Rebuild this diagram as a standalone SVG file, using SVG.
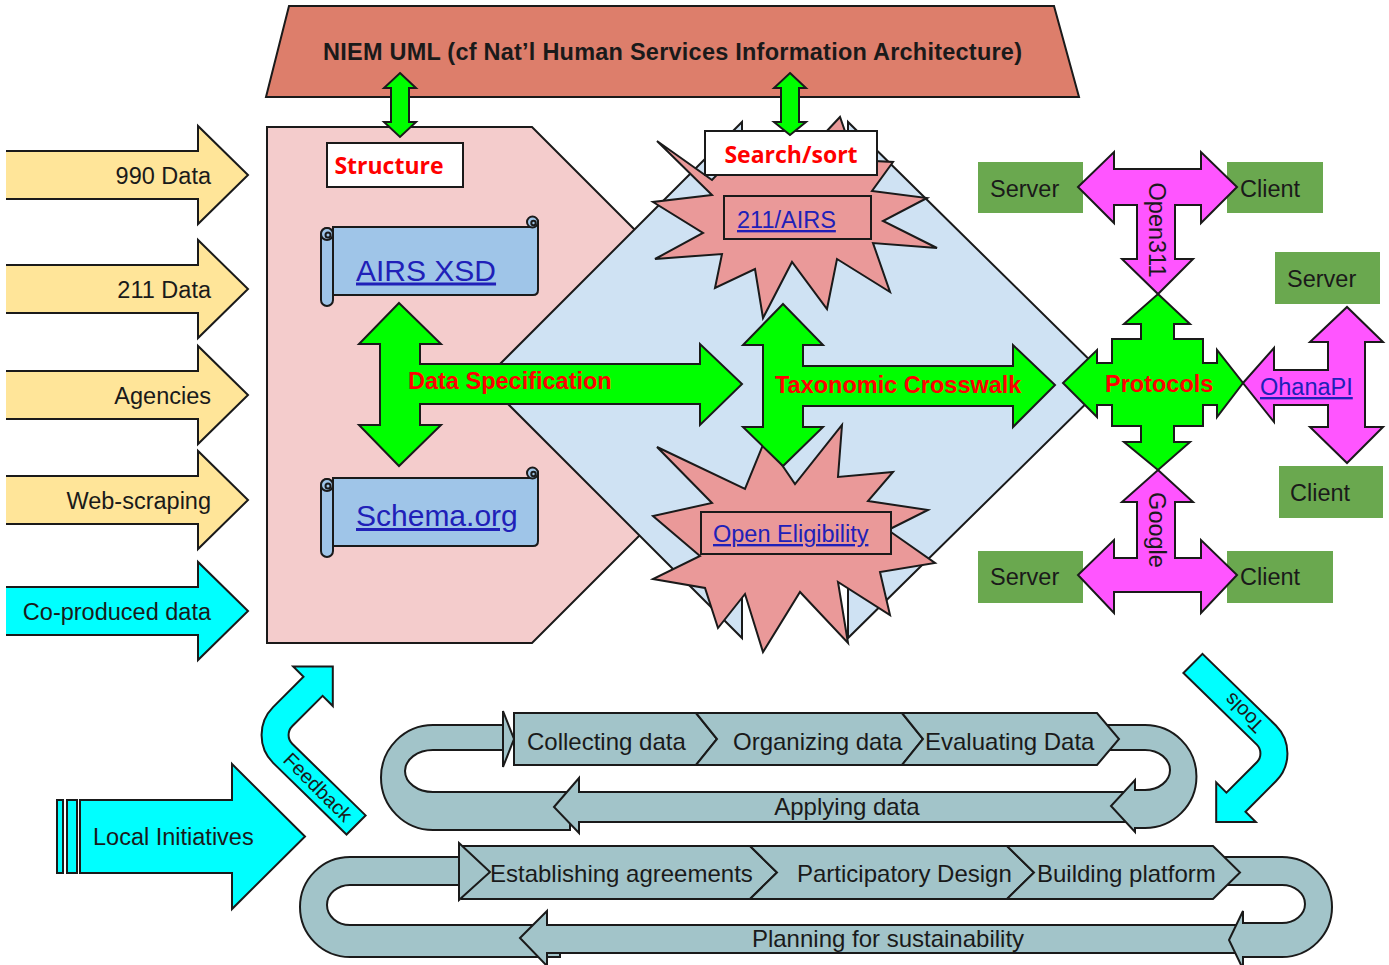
<svg xmlns="http://www.w3.org/2000/svg" xmlns:xlink="http://www.w3.org/1999/xlink" width="1389" height="965" viewBox="0 0 1389 965">
<defs>
<style>
.s{stroke:#1a1a1a;stroke-width:2;stroke-linejoin:miter}
.yel{fill:#ffe599}
.cy{fill:#00ffff}
.pk{fill:#f4cccc}
.lb{fill:#cfe2f3}
.burst{fill:#ea9999}
.gr{fill:#00ff00}
.mg{fill:#ff55ff}
.bx{fill:#6aa84f}
.band{fill:#a2c4c9}
.sc{fill:#9fc5e8}
.wh{fill:#ffffff}
.nf{fill:none}
.t{font-family:"Liberation Sans",Arial,sans-serif;font-size:23.5px;fill:#1a1a1a}
.big{font-size:24px}
.sm{font-size:20px}
.xl{font-size:30px}
.b{font-weight:bold}
.red{fill:#ff0000}
.lnk{fill:#2020b8;text-decoration:underline}
.u{font-family:"Open Sans","DejaVu Sans",sans-serif;font-weight:700;font-size:23px;fill:#ff0000}
</style>
<g id="scroll">
<rect class="sc s" x="321" y="228" width="12" height="78" rx="6"/>
<path class="sc s" d="M333,227 H532 V222 A3,3 0 0 1 538,222 V290 Q538,295 533,295 H333 Z"/>
<circle class="sc s" cx="532.5" cy="222" r="5.5"/>
<circle class="nf s" cx="533.5" cy="223" r="2.2" stroke-width="1.5"/>
<circle class="sc s" cx="327" cy="234" r="6"/>
<circle class="nf s" cx="328" cy="235" r="2.5" stroke-width="1.5"/>
</g>
<path id="bent" d="M346.5,834.5 L273.1,762.9 A39.5,39.5 0 0 1 273.1,707.1 L303.5,676.7 L293.2,666.4 L332.8,666.4 L332.8,706 L322.6,695.8 L292.2,726.2 A12.5,12.5 0 0 0 292.2,743.8 L365.6,815.4 Z"/>
</defs>

<!-- input arrows -->
<g id="in-990">
<path class="yel s" d="M6,151 H198 V126 L248,175 L198,224 V199 H6"/>
<text class="t" x="211" y="184" text-anchor="end">990 Data</text>
</g>
<g id="in-211">
<path class="yel s" d="M6,265 H198 V240 L248,289 L198,338 V313 H6"/>
<text class="t" x="211" y="298" text-anchor="end">211 Data</text>
</g>
<g id="in-agencies">
<path class="yel s" d="M6,371 H198 V346 L248,395 L198,444 V419 H6"/>
<text class="t" x="211" y="404" text-anchor="end">Agencies</text>
</g>
<g id="in-web">
<path class="yel s" d="M6,476 H198 V451 L248,500 L198,549 V524 H6"/>
<text class="t" x="211" y="509" text-anchor="end">Web-scraping</text>
</g>
<g id="in-coproduced">
<path class="cy s" d="M6,587 H198 V562 L248,611 L198,660 V635 H6"/>
<text class="t" x="211" y="620" text-anchor="end">Co-produced data</text>
</g>

<!-- structure pentagon -->
<g id="structure-area">
<polygon class="pk s" points="267,127 532,127 790,385 532,643 267,643"/>
</g>

<!-- blue area -->
<g id="search-area">
<polygon class="lb s" points="742,122 742,200 848,200 848,122 1110,380 848,638 848,570 742,570 742,638 484,380"/>
</g>

<!-- starbursts -->
<g id="airs-burst">
<polygon class="burst s" points="657,141 712,180 755,135 795,165 840,117 855,160 893,162 872,191 927,198 883,221 937,248 873,243 890,292 837,259 827,309 792,262 763,318 755,269 715,288 722,254 655,259 703,233 653,202 712,195"/>
<rect class="burst s" x="724" y="196" width="147" height="43"/>
<text class="t lnk" x="737" y="228">211/AIRS</text>
</g>
<g id="eligibility-burst">
<polygon class="burst s" points="657,447 745,489 765,440 795,484 842,425 838,477 893,472 868,501 928,510 888,530 935,563 880,572 890,615 838,582 848,643 800,592 763,652 745,594 718,628 705,588 653,579 700,556 653,516 712,503"/>
<rect class="burst s" x="701" y="512" width="190" height="42"/>
<text class="t lnk" x="713" y="542">Open Eligibility</text>
</g>

<!-- NIEM top -->
<g id="niem">
<polygon fill="#dd7e6b" class="s" points="289,6 1054,6 1079,97 266,97"/>
<text class="t b" x="323" y="60" font-size="23.8" textLength="699" lengthAdjust="spacing">NIEM UML (cf Nat’l Human Services Information Architecture)</text>
</g>

<g id="structure-label">
<rect class="wh s" x="327" y="143" width="136" height="44"/>
<text class="u" x="389" y="174" text-anchor="middle">Structure</text>
</g>
<g id="search-label">
<rect class="wh s" x="705" y="131" width="172" height="44"/>
<text class="u" x="791" y="163" text-anchor="middle">Search/sort</text>
</g>

<!-- connectors -->
<g id="connectors">
<path class="gr s" d="M400,73 L416,88 H409 V122 H416 L400,137 L384,122 H391 V88 H384 Z"/>
<path class="gr s" d="M790,73 L806,88 H799 V122 H806 L790,135 L774,122 H781 V88 H774 Z"/>
</g>

<!-- scrolls -->
<g id="airs-xsd">
<use xlink:href="#scroll"/>
<text class="t xl lnk" x="356" y="280.5">AIRS XSD</text>
</g>
<g id="schema-org">
<use xlink:href="#scroll" y="251"/>
<text class="t xl lnk" x="356" y="526">Schema.org</text>
</g>

<!-- data spec arrow -->
<g id="data-spec">
<polygon class="gr s" points="399,303 441,344 420,344 420,364 700,364 700,344 742,384 700,425 700,404 420,404 420,425 441,425 399,466 359,425 380,425 380,344 359,344"/>
<text class="t b red" x="408" y="389">Data Specification</text>
</g>

<g id="taxonomic">
<polygon class="gr s" points="783,304 823,345 803,345 803,366 1013,366 1013,345 1055,385 1013,427 1013,406 803,406 803,427 823,427 783,466 743,427 763,427 763,345 743,345"/>
<text class="t b red" x="775" y="393">Taxonomic Crosswalk</text>
</g>

<!-- green boxes -->
<g id="server1"><rect class="bx" x="978" y="162" width="105" height="51"/></g>
<g id="client1"><rect class="bx" x="1227" y="162" width="96" height="51"/></g>
<g id="server2"><rect class="bx" x="1275" y="252" width="105" height="52"/></g>
<g id="client2"><rect class="bx" x="1279" y="466" width="104" height="52"/></g>
<g id="server3"><rect class="bx" x="978" y="551" width="105" height="52"/></g>
<g id="client3"><rect class="bx" x="1227" y="551" width="106" height="52"/></g>

<g id="protocols">
<polygon class="gr s" points="1158,294 1190,324 1174,324 1174,339 1203,339 1203,363 1217,363 1217,350 1243,383 1217,417 1217,405 1203,405 1203,426 1174,426 1174,442 1190,442 1158,470 1124,442 1141,442 1141,426 1112,426 1112,405 1097,405 1097,417 1063,383 1097,350 1097,363 1112,363 1112,339 1141,339 1141,324 1124,324"/>
<text class="t b red" x="1105" y="392">Protocols</text>
</g>

<g id="open311">
<polygon class="mg s" points="1078,187 1114,152 1114,169 1201,169 1201,152 1237,187 1201,223 1201,205 1175,205 1175,259 1193,259 1158,294 1122,259 1137,259 1137,205 1114,205 1114,223"/>
<text class="t" x="0" y="0" text-anchor="middle" transform="translate(1149,230) rotate(90)">Open311</text>
</g>
<g id="google">
<polygon class="mg s" points="1158,470 1193,502 1175,502 1175,558 1201,558 1201,540 1237,575 1201,613 1201,592 1114,592 1114,613 1078,575 1114,540 1114,558 1137,558 1137,502 1122,502"/>
<text class="t" x="0" y="0" text-anchor="middle" transform="translate(1149,530) rotate(90)">Google</text>
</g>
<g id="ohanapi">
<polygon class="mg s" points="1243,383 1274,348 1274,370 1328,370 1328,342 1310,342 1347,307 1383,342 1365,342 1365,427 1383,427 1347,463 1310,427 1328,427 1328,405 1274,405 1274,422"/>
<text class="t lnk" x="1260" y="395">OhanaPI</text>
</g>

<g id="box-labels">
<text class="t" x="990" y="196.5">Server</text>
<text class="t" x="1240" y="196.5">Client</text>
<text class="t" x="1287" y="286.5">Server</text>
<text class="t" x="1290" y="501">Client</text>
<text class="t" x="990" y="585">Server</text>
<text class="t" x="1240" y="585">Client</text>
</g>

<!-- feedback / tools -->
<g id="feedback">
<use xlink:href="#bent" class="cy s"/>
<text class="t sm" x="0" y="0" text-anchor="middle" dominant-baseline="central" transform="translate(318,787) rotate(45)">Feedback</text>
</g>
<g id="tools">
<use xlink:href="#bent" class="cy s" transform="rotate(180,774.5,744.2)"/>
<text class="t sm" x="0" y="0" text-anchor="middle" dominant-baseline="central" transform="translate(1244,713) rotate(225)">Tools</text>
</g>

<!-- local initiatives -->
<g id="local">
<rect class="cy s" x="57" y="800" width="6" height="73"/>
<rect class="cy s" x="67" y="800" width="10" height="73"/>
<path class="cy s" d="M80,800 H232 V764 L305,836.5 L232,909 V873 H80 Z"/>
<text class="t" x="93" y="845">Local Initiatives</text>
</g>

<!-- data cycle -->
<g id="data-cycle">
<path class="band s" d="M503,725 H433 A52,52.5 0 0 0 433,830 H570 V792 H433 A28,21 0 0 1 433,750 H503"/>
<path class="band s" d="M554,807 L579,778 V792 H1135 V822 H579 V833 Z"/>
<path class="band s" d="M1100,725 H1145 A51.5,51.5 0 0 1 1145,828 H1135 V832 L1111,806 L1135,780 V790 H1145 A25,20 0 0 0 1145,750 H1100 Z"/>
<path class="band s" d="M514,713 H696 L717,739 L696,765 H514 Z"/>
<path class="band s" d="M696,713 H902 L923,739 L902,765 H696 L717,739 Z"/>
<path class="band s" d="M902,713 H1097 L1119,739 L1097,765 H902 L923,739 Z"/>
<path class="band s" d="M503,711 L514,739 L503,767 Z"/>
<text class="t big" x="527" y="749.5">Collecting data</text>
<text class="t big" x="733" y="749.5">Organizing data</text>
<text class="t big" x="925" y="749.5">Evaluating Data</text>
<text class="t big" x="847" y="815" text-anchor="middle">Applying data</text>
</g>

<!-- platform cycle -->
<g id="platform-cycle">
<path class="band s" d="M459,857 H350 A50,50 0 0 0 350,957 H560 V925 H350 A23,20 0 0 1 350,885 H459"/>
<path class="band s" d="M520,938 L547,911 V925 H1243 V953 H547 V966 Z"/>
<path class="band s" d="M1200,857 H1282 A50,50 0 0 1 1282,957 H1243 V969 L1229,940 L1243,911 V923 H1282 A23,19 0 0 0 1282,885 H1200 Z"/>
<path class="band s" d="M462,846 H750 L777,872.5 L750,899 H462 Z"/>
<path class="band s" d="M750,846 H1007 L1034,872.5 L1007,899 H750 L777,872.5 Z"/>
<path class="band s" d="M1007,846 H1213 L1240,872.5 L1213,899 H1007 L1034,872.5 Z"/>
<path class="band s" d="M459,843 L490,872 L459,900 Z"/>
<text class="t big" x="490" y="881.5">Establishing agreements</text>
<text class="t big" x="797" y="881.5">Participatory Design</text>
<text class="t big" x="1037" y="881.5">Building platform</text>
<text class="t big" x="888" y="947" text-anchor="middle">Planning for sustainability</text>
</g>
</svg>
